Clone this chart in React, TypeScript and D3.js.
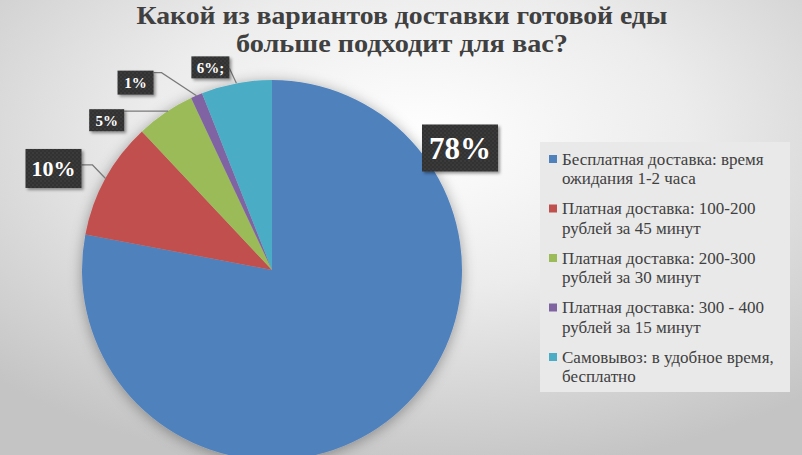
import React, { useEffect, useRef } from 'react';
import * as d3 from 'd3';

// chart data
const titleLines = ['Какой из вариантов доставки готовой еды', 'больше подходит для вас?'];
const categories = [
  ['Бесплатная доставка: время', 'ожидания 1-2 часа'],
  ['Платная доставка: 100-200', 'рублей за 45 минут'],
  ['Платная доставка: 200-300', 'рублей за 30 минут'],
  ['Платная доставка: 300 - 400', 'рублей за 15 минут'],
  ['Самовывоз: в удобное время,', 'бесплатно'],
];
const values = [78, 10, 5, 1, 6];
const valueLabels = ['78%', '10%', '5%', '1%', '6%;'];
const colors = ['#4f81bd', '#c0504d', '#9bbb59', '#8064a2', '#4bacc6'];

// label placement (offset of the box centre from the leader anchor on the arc)
const labelLayout = [
  { dx: 188, dy: -122, w: 76, h: 47, size: 31, leader: false, at: 0.5, sy: 0, elbow: 0, fromCenter: true },
  { dx: -52, dy: -10, w: 56, h: 39, size: 22, leader: true, at: 0.5, sy: -3.5, elbow: 11, fromCenter: false },
  { dx: -61, dy: 9, w: 35, h: 22, size: 15, leader: true, at: 0.55, sy: -9, elbow: 44, fromCenter: false },
  { dx: -61, dy: -13, w: 36, h: 24, size: 15, leader: true, at: 0.5, sy: -10, elbow: 8, fromCenter: false },
  { dx: -26, dy: -16, w: 38, h: 22, size: 15, leader: true, at: 0.5, sy: 1, elbow: 0, fromCenter: false },
];

const PieChart: React.FC = () => {
  const ref = useRef<SVGSVGElement | null>(null);

  useEffect(() => {
    if (!ref.current) return;
    const width = 802;
    const height = 455;
    const cx = 272;
    const cy = 270;
    const radius = 190;

    const svg = d3.select(ref.current);
    svg.selectAll('*').remove();
    svg.attr('width', width).attr('height', height);

    const defs = svg.append('defs');
    const bg = defs.append('radialGradient').attr('id', 'bg').attr('cx', '52%').attr('cy', '30%').attr('r', '75%');
    bg.append('stop').attr('offset', '0%').attr('stop-color', '#ffffff');
    bg.append('stop').attr('offset', '45%').attr('stop-color', '#ececec');
    bg.append('stop').attr('offset', '100%').attr('stop-color', '#c4c4c4');

    const shadow = defs.append('filter').attr('id', 'pieShadow').attr('x', '-20%').attr('y', '-20%').attr('width', '140%').attr('height', '140%');
    shadow.append('feDropShadow').attr('dx', 0).attr('dy', 2).attr('stdDeviation', 7).attr('flood-color', '#000').attr('flood-opacity', 0.35);

    const boxShadow = defs.append('filter').attr('id', 'boxShadow').attr('x', '-30%').attr('y', '-30%').attr('width', '160%').attr('height', '160%');
    boxShadow.append('feDropShadow').attr('dx', 2).attr('dy', 2).attr('stdDeviation', 1.5).attr('flood-color', '#000').attr('flood-opacity', 0.4);

    const dots = defs.append('pattern').attr('id', 'dots').attr('width', 4).attr('height', 4).attr('patternUnits', 'userSpaceOnUse');
    dots.append('rect').attr('width', 4).attr('height', 4).attr('fill', '#303030');
    dots.append('circle').attr('cx', 1).attr('cy', 1).attr('r', 0.7).attr('fill', '#4a4a4a');
    dots.append('circle').attr('cx', 3).attr('cy', 3).attr('r', 0.7).attr('fill', '#454545');

    svg.append('rect').attr('width', width).attr('height', height).attr('fill', 'url(#bg)');

    // title
    const titleWidths = [531, 332];
    svg
      .append('g')
      .selectAll('text')
      .data(titleLines)
      .join('text')
      .attr('x', 402)
      .attr('y', (_, i) => 24 + i * 28)
      .attr('text-anchor', 'middle')
      .attr('font-family', '"Liberation Serif", "DejaVu Serif", serif')
      .attr('font-weight', 'bold')
      .attr('font-size', 26)
      .attr('fill', '#404040')
      .attr('textLength', (_, i) => titleWidths[i])
      .attr('lengthAdjust', 'spacingAndGlyphs')
      .text((d) => d);

    // pie
    const pie = d3.pie<number>().sort(null).value((d) => d);
    const arcs = pie(values);
    const arc = d3.arc<d3.PieArcDatum<number>>().innerRadius(0).outerRadius(radius);

    const g = svg.append('g').attr('transform', `translate(${cx},${cy})`);
    g.append('g')
      .attr('filter', 'url(#pieShadow)')
      .selectAll('path')
      .data(arcs)
      .join('path')
      .attr('d', arc)
      .attr('fill', (_, i) => colors[i]);

    // data labels
    arcs.forEach((a, i) => {
      const lay = labelLayout[i];
      const ang = a.startAngle + (a.endAngle - a.startAngle) * lay.at;
      const ax = cx + radius * Math.sin(ang);
      const ay = cy - radius * Math.cos(ang);
      const bx = lay.fromCenter ? cx + lay.dx : ax + lay.dx;
      const by = lay.fromCenter ? cy + lay.dy : ay + lay.dy;

      if (lay.leader) {
        const sx = bx + lay.w / 2;
        const sy = by + lay.sy;
        svg
          .append('path')
          .attr('d', d3.line()([[sx, sy], [sx + lay.elbow, sy], [ax, ay]]))
          .attr('fill', 'none')
          .attr('stroke', '#7a7a7a')
          .attr('stroke-width', 1.2);
      }

      svg
        .append('rect')
        .attr('x', bx - lay.w / 2)
        .attr('y', by - lay.h / 2)
        .attr('width', lay.w)
        .attr('height', lay.h)
        .attr('fill', 'url(#dots)')
        .attr('filter', 'url(#boxShadow)');

      svg
        .append('text')
        .attr('x', bx)
        .attr('y', by)
        .attr('dy', '0.36em')
        .attr('text-anchor', 'middle')
        .attr('font-family', '"Liberation Serif", "DejaVu Serif", serif')
        .attr('font-weight', 'bold')
        .attr('font-size', lay.size)
        .attr('fill', '#ffffff')
        .text(valueLabels[i]);
    });

    // legend
    const legend = svg.append('g');
    legend.append('rect').attr('x', 540).attr('y', 142).attr('width', 250).attr('height', 250).attr('fill', '#e9e9e9');
    const rows = legend
      .selectAll('g.row')
      .data(categories)
      .join('g')
      .attr('class', 'row')
      .attr('transform', (_, i) => `translate(549, ${159 + i * 49.5})`);
    rows
      .append('rect')
      .attr('x', 0)
      .attr('y', -4)
      .attr('width', 8)
      .attr('height', 8)
      .attr('fill', (_, i) => colors[i]);
    rows
      .selectAll('text')
      .data((d) => d)
      .join('text')
      .attr('x', 13)
      .attr('y', (_, j) => j * 19.5)
      .attr('dy', '0.35em')
      .attr('font-family', '"Liberation Serif", "DejaVu Serif", serif')
      .attr('font-size', 17)
      .attr('fill', '#404040')
      .text((d) => d);
  }, []);

  return <svg ref={ref} style={{ position: 'absolute', left: 0, top: 0, display: 'block' }} />;
};

export default function App() {
  return <PieChart />;
}
